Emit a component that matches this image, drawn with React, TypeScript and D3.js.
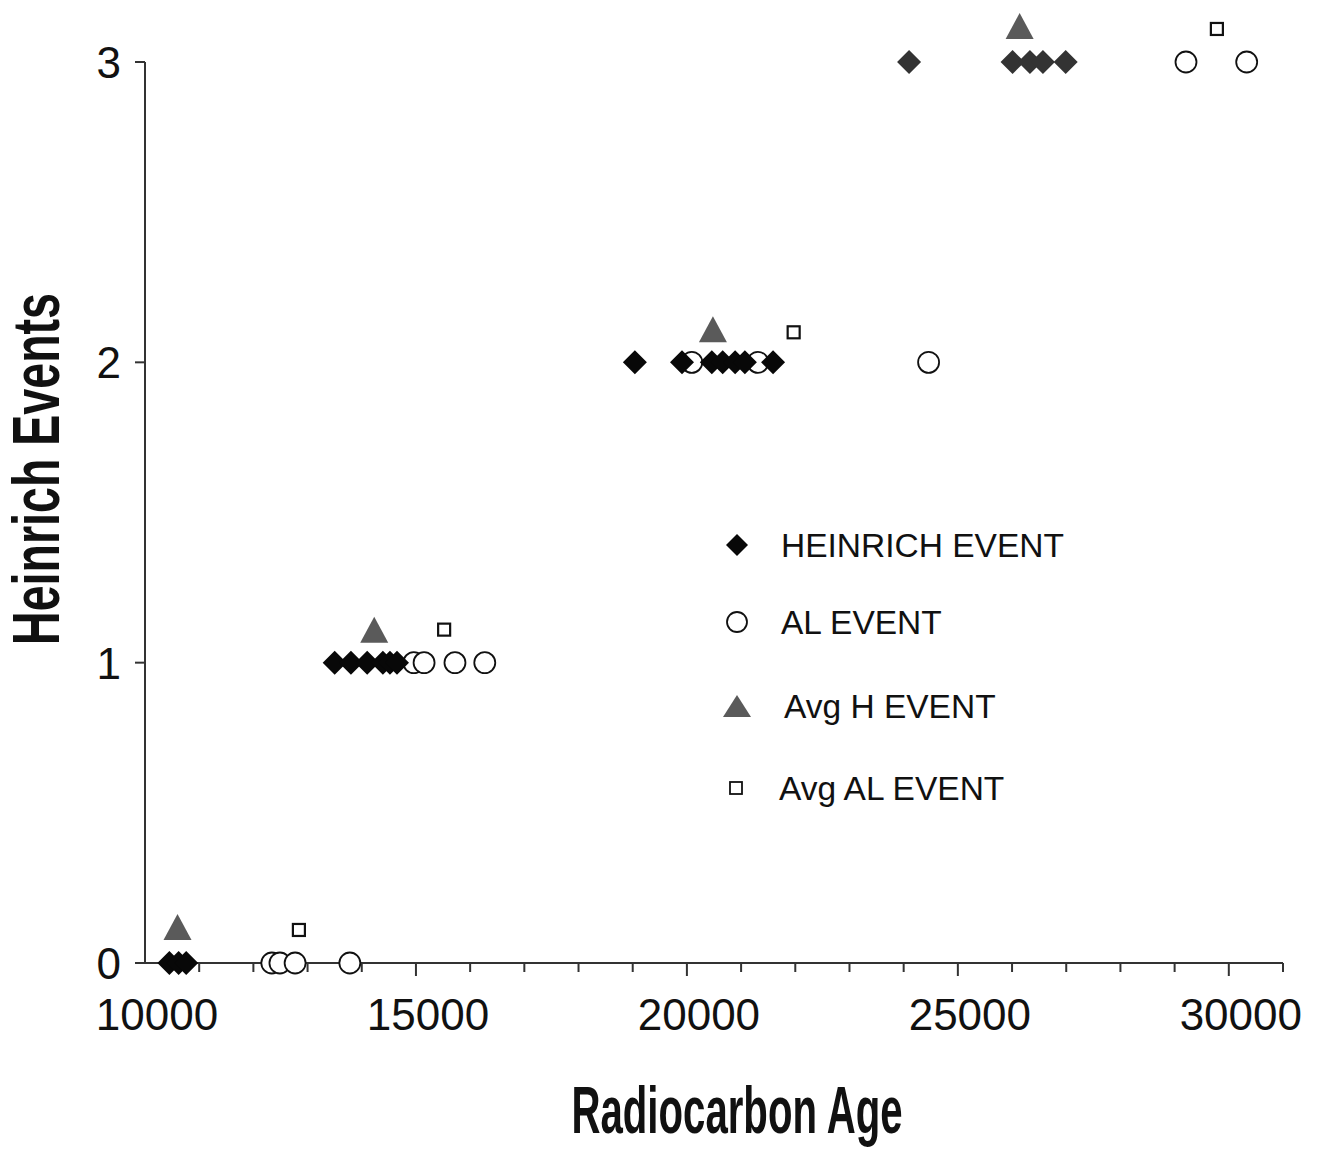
import React from "react";
import * as d3 from "d3";

// Heinrich event dates (radiocarbon age) and event number
const heinrichAge = [10450, 10620, 10760, 13500, 13800, 14100, 14390, 14520, 14650, 19040, 19910, 20460, 20660, 20890, 21070, 21590, 24100, 26010, 26330, 26570, 26990];
const heinrichEvent = [0, 0, 0, 1, 1, 1, 1, 1, 1, 2, 2, 2, 2, 2, 2, 2, 3, 3, 3, 3, 3];

// AL event dates
const alAge = [12340, 12490, 12770, 13780, 14960, 15150, 15720, 16270, 20090, 21310, 24460, 29210, 30330];
const alEvent = [0, 0, 0, 0, 1, 1, 1, 1, 2, 2, 2, 3, 3];

// Averages (plotted slightly above the event level)
const avgHAge = [10600, 14230, 20480, 26140];
const avgHEvent = [0.12, 1.11, 2.11, 3.12];
const avgALAge = [12840, 15520, 21970, 29780];
const avgALEvent = [0.11, 1.11, 2.1, 3.11];

const xTickValues = [10000, 15000, 20000, 25000, 30000];
const yTickValues = [0, 1, 2, 3];
const legendLabels = ["HEINRICH EVENT", "AL EVENT", "Avg H EVENT", "Avg AL EVENT"];

const W = 1320;
const H = 1154;

export default function App() {
  const x = d3.scaleLinear().domain([10000, 31000]).range([145, 1283]);
  const y = d3.scaleLinear().domain([0, 3]).range([963, 62]);
  const minorTicks = d3.range(11000, 31001, 1000);

  const diamond = (cx: number, cy: number, r: number) =>
    `M${cx},${cy - r}L${cx + r},${cy}L${cx},${cy + r}L${cx - r},${cy}Z`;
  const triangle = (cx: number, cy: number, w: number, h: number) =>
    `M${cx},${cy - h / 2}L${cx + w / 2},${cy + h / 2}L${cx - w / 2},${cy + h / 2}Z`;

  const axisColor = "#333";
  const sans = "'Liberation Sans', Arial, sans-serif";
  const narrow = "'Liberation Sans Narrow', 'Arial Narrow', 'Liberation Sans', Arial, sans-serif";

  const legendY = [545, 622, 706, 788];
  const legendTextX = [781, 781, 784, 779];

  return (
    <svg width={W} height={H} style={{ display: "block", position: "absolute", left: 0, top: 0 }} xmlns="http://www.w3.org/2000/svg">
      <rect width={W} height={H} fill="#fff" />
      {/* axes */}
      <line x1={x(10000)} x2={x(31000)} y1={y(0)} y2={y(0)} stroke={axisColor} strokeWidth={2} />
      <line x1={x(10000)} x2={x(10000)} y1={y(0)} y2={y(3)} stroke={axisColor} strokeWidth={2} />
      {minorTicks.map((t) => (
        <line key={t} x1={x(t)} x2={x(t)} y1={y(0)} y2={y(0) + (t % 5000 === 0 ? 13 : 9)} stroke={axisColor} strokeWidth={2} />
      ))}
      {yTickValues.map((t) => (
        <line key={t} x1={x(10000) - 10} x2={x(10000)} y1={y(t)} y2={y(t)} stroke={axisColor} strokeWidth={2} />
      ))}
      {xTickValues.map((t) => (
        <text key={t} x={x(t) + 12} y={1030} textAnchor="middle" fontFamily={sans} fontSize={44} fill="#111">
          {t}
        </text>
      ))}
      {yTickValues.map((t) => (
        <text key={t} x={121} y={y(t)} dy="0.36em" textAnchor="end" fontFamily={sans} fontSize={44} fill="#111">
          {t}
        </text>
      ))}
      {/* axis titles */}
      <text x={737} y={1133} textAnchor="middle" fontFamily={narrow} fontWeight="bold" fontSize={66} textLength={331} lengthAdjust="spacingAndGlyphs" fill="#111">
        Radiocarbon Age
      </text>
      <text transform="translate(59,469) rotate(-90)" textAnchor="middle" fontFamily={narrow} fontWeight="bold" fontSize={66} textLength={352} lengthAdjust="spacingAndGlyphs" fill="#111">
        Heinrich Events
      </text>

      {/* AL circles */}
      {alAge.map((a, i) => (
        <circle key={"al" + i} cx={x(a)} cy={y(alEvent[i])} r={10.5} fill="#fff" stroke="#111" strokeWidth={1.8} />
      ))}
      {/* Heinrich diamonds */}
      {heinrichAge.map((a, i) => (
        <path key={"h" + i} d={diamond(x(a), y(heinrichEvent[i]), 12)} fill={heinrichEvent[i] === 3 ? "#333" : "#080808"} />
      ))}
      {/* avg H triangles */}
      {avgHAge.map((a, i) => (
        <path key={"ah" + i} d={triangle(x(a), y(avgHEvent[i]), 28, 26)} fill="#5a5a5a" />
      ))}
      {/* avg AL squares */}
      {avgALAge.map((a, i) => (
        <rect key={"aa" + i} x={x(a) - 6} y={y(avgALEvent[i]) - 6} width={12} height={12} fill="#fff" stroke="#111" strokeWidth={2.2} />
      ))}

      {/* legend */}
      <path d={diamond(737, legendY[0], 11)} fill="#080808" />
      <circle cx={737} cy={legendY[1]} r={10} fill="#fff" stroke="#111" strokeWidth={1.8} />
      <path d={triangle(737, legendY[2], 28, 22)} fill="#5a5a5a" />
      <rect x={730} y={legendY[3] - 6} width={12} height={12} fill="#fff" stroke="#111" strokeWidth={1.8} />
      {legendLabels.map((l, i) => (
        <text key={l} x={legendTextX[i]} y={legendY[i]} dy="0.36em" fontFamily={sans} fontSize={33.5} fill="#111">
          {l}
        </text>
      ))}
    </svg>
  );
}
